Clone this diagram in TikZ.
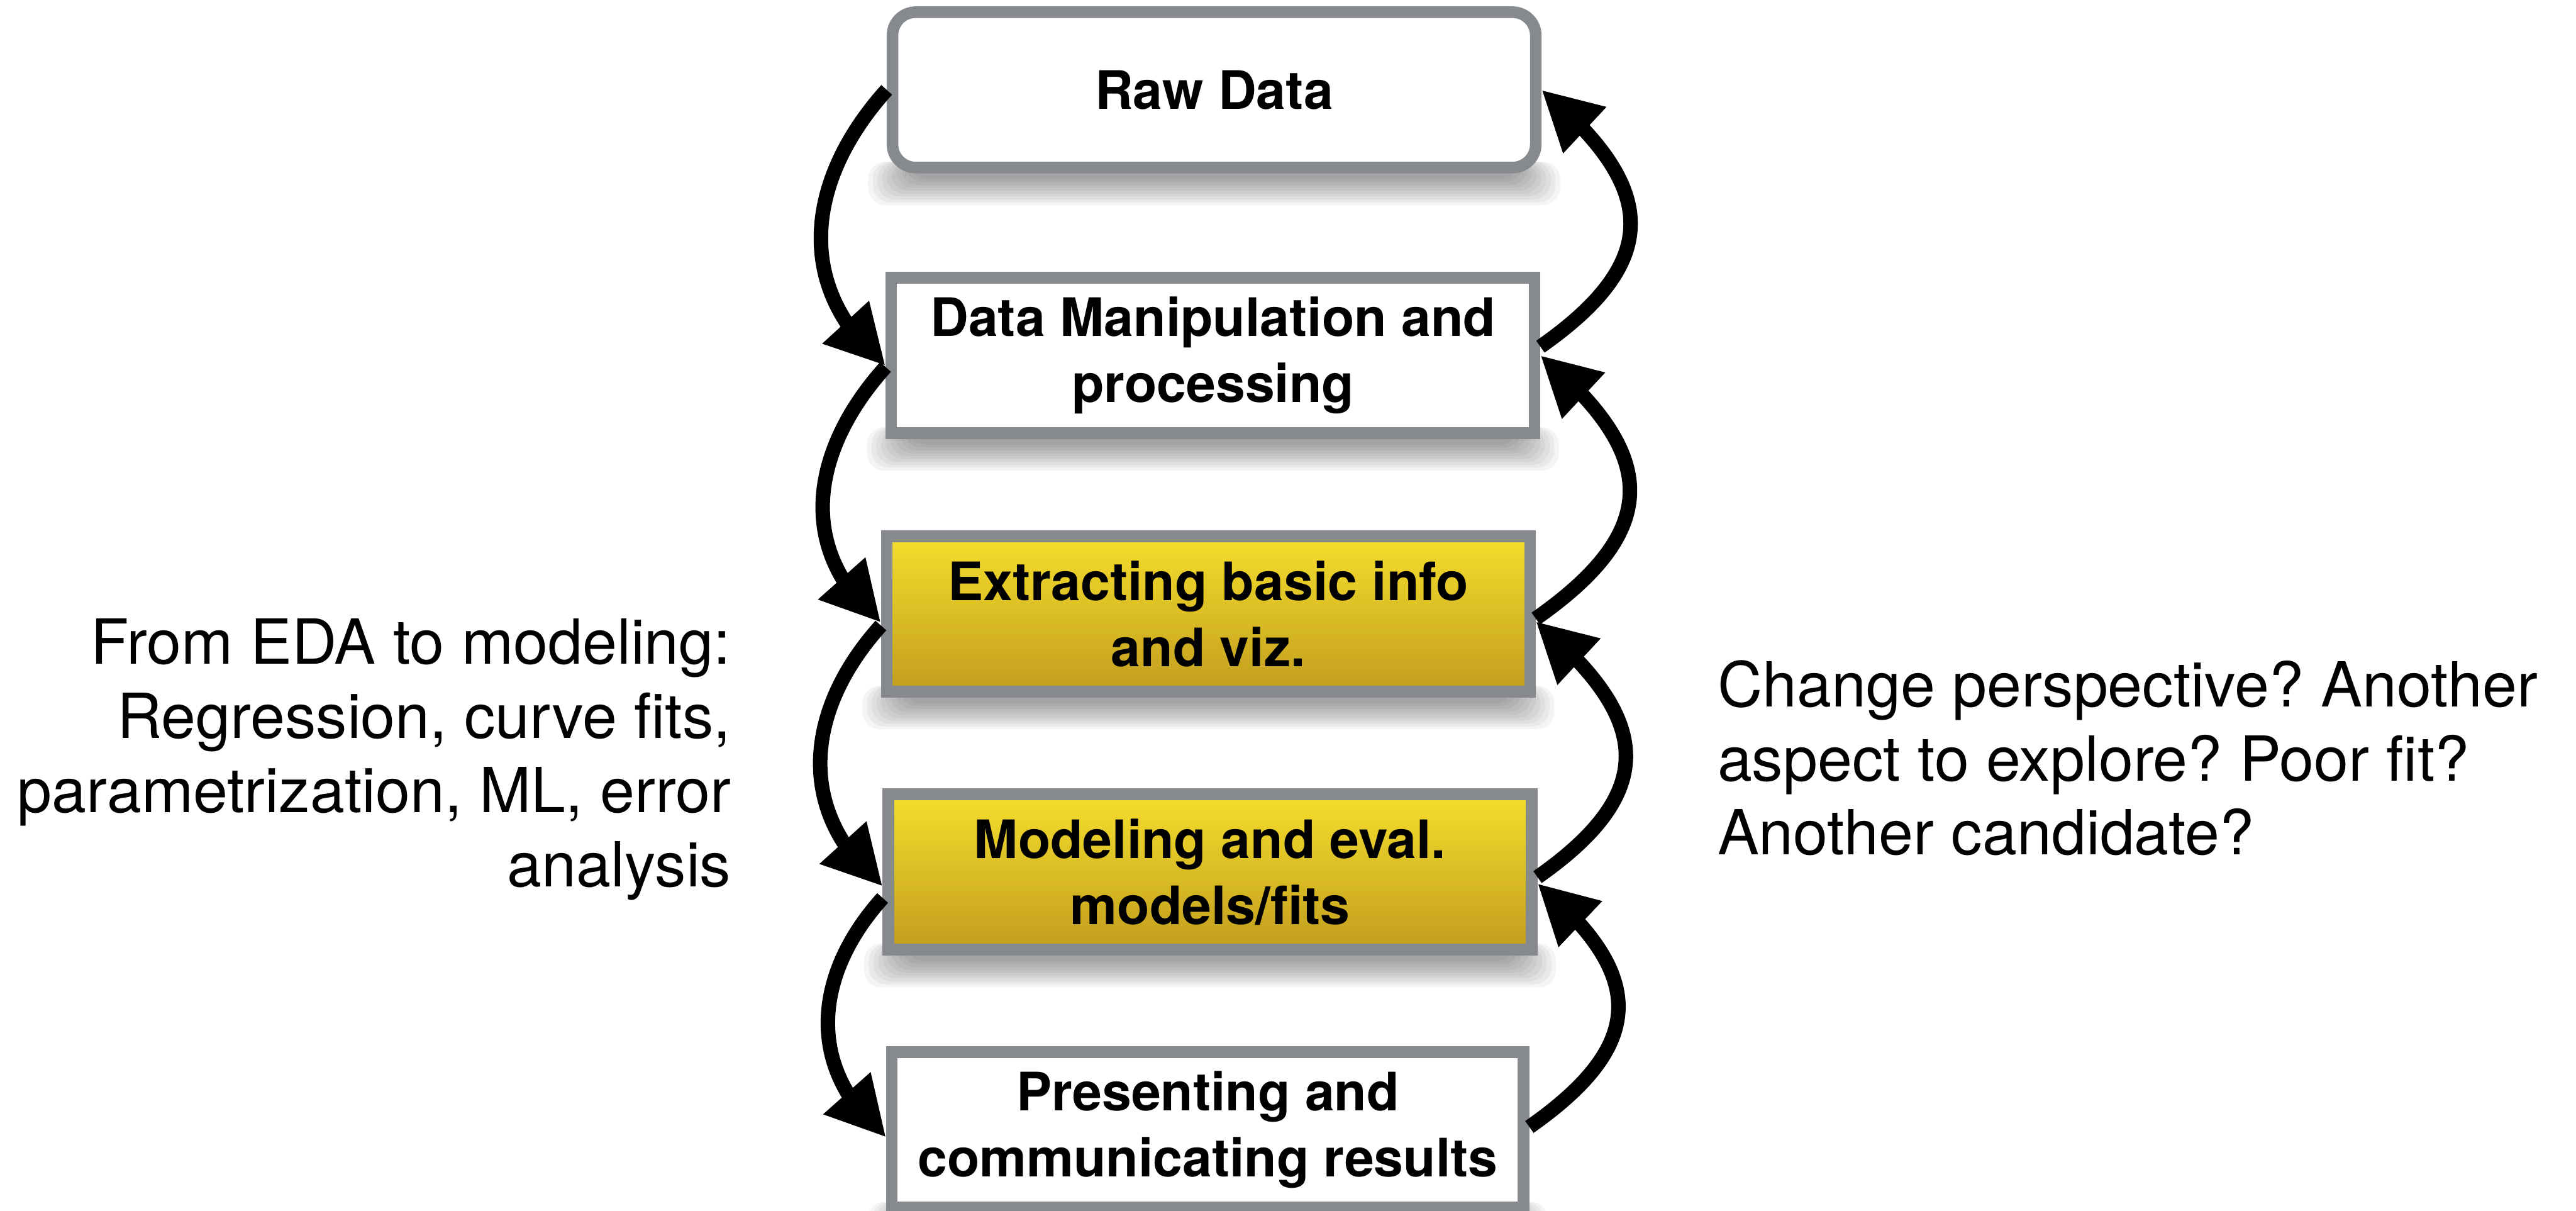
\documentclass[tikz,border=0pt]{standalone}
\usepackage{fontspec}
\setmainfont{TeX Gyre Heros}
\usepackage{xcolor}
\usepackage{tikz}
\usetikzlibrary{arrows.meta}
\usetikzlibrary{bending}
\usetikzlibrary{calc}
\usetikzlibrary{backgrounds}
\definecolor{boxgray}{HTML}{86898D}
\definecolor{goldtop}{HTML}{F6DE2C}
\definecolor{goldbottom}{HTML}{C19D1E}
\def\stagew{11.1}
\def\stageh{2.68}
\frenchspacing

\begin{document}
\begin{tikzpicture}[
		stage/.style={draw=boxgray, line width=0.2cm, fill=white,
			minimum width=\stagew cm, minimum height=\stageh cm, inner sep=0pt,
			align=center, font=\fontsize{26}{32.5}\selectfont\bfseries},
		goldstage/.style={stage, top color=goldtop, bottom color=goldbottom},
		loopdown/.style={-{Triangle[length=1.02cm,width=1.02cm]}, line width=0.25cm,
			out=228, in=140, looseness=1.12},
		loopup/.style={-{Triangle[length=1.02cm,width=1.02cm]}, line width=0.25cm,
			out=35, in=-40, looseness=1.5},
		note/.style={inner sep=0pt, font=\fontsize{30.5}{36.4}\selectfont}
	]
	\useasboundingbox (0,0) rectangle (44.45,-20.89);

	% the five stages
	\node[stage, rounded corners=0.4cm] (raw) at (20.95,-1.55) {Raw Data};
	\node[stage] (manip) at (20.93,-6.13) {Data Manipulation and\\processing};
	\node[goldstage] (extract) at (20.85,-10.59) {Extracting basic info\\and viz.};
	\node[goldstage] (model) at (20.88,-15.04) {Modeling and eval.\\models/fits};
	\node[stage, minimum width=10.9cm] (present) at (20.84,-19.49) {Presenting and\\communicating results};

	% soft shadows under the boxes
	\begin{scope}[on background layer]
		\foreach \n in {raw,manip,extract,model,present}
			\foreach \k in {1,...,10}
				\fill[black, opacity=0.045, rounded corners=0.3cm]
					($(\n.south west)+(-0.4+0.08*\k,0.2)$) rectangle ($(\n.south east)+(0.4-0.08*\k,-0.6+0.05*\k)$);
	\end{scope}

	% going down on the left
	\draw[loopdown] (raw.west) to ([yshift=-1.8mm]manip.west);
	\draw[loopdown] ([yshift=-2mm]manip.west) to ([yshift=-1.5mm]extract.west);
	\draw[loopdown] ([yshift=-2mm]extract.west) to ([yshift=-2.5mm]model.west);
	\draw[loopdown] ([yshift=-4.5mm]model.west) to ([yshift=-1.3mm]present.west);

	% going back up on the right
	\draw[loopup] ([yshift=1.5mm]manip.east) to (raw.east);
	\draw[loopup] ([yshift=-0.8mm]extract.east) to (manip.east);
	\draw[loopup] ([yshift=-0.9mm]model.east) to ([yshift=-1.3mm]extract.east);
	\draw[loopup] ([yshift=0.5mm]present.east) to ([yshift=-2mm]model.east);

	\node[note, anchor=north east, align=right] (edanote) at (12.62,-10.67)
		{From EDA to modeling:\\Regression, curve fits,\\parametrization, ML, error\\analysis};
	\node[note, anchor=north west, align=left] (fitnote) at (29.63,-11.38)
		{Change perspective? Another\\aspect to explore? Poor fit?\\Another candidate?};
\end{tikzpicture}
\end{document}
